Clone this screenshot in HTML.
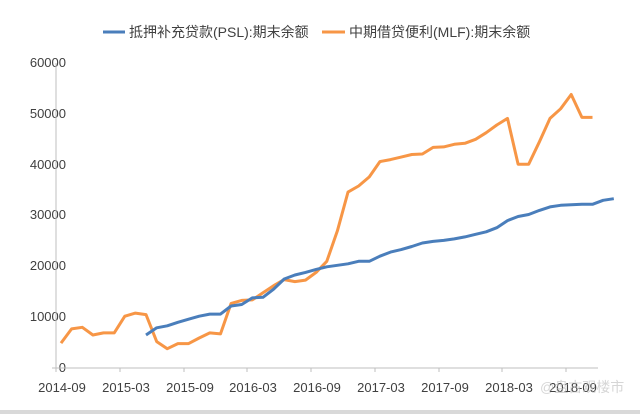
<!DOCTYPE html>
<html><head><meta charset="utf-8"><style>
body{margin:0;background:#fff;}
svg{display:block;font-family:"Liberation Sans","Noto Sans CJK SC",sans-serif;}
</style></head><body>
<svg id="s" width="640" height="414" viewBox="0 0 640 414">
<rect x="0" y="0" width="640" height="414" fill="#fff"/>
<rect x="0" y="410" width="640" height="4" fill="#d9d9d9"/>
<g font-size="13" fill="#404040" text-anchor="end">
<text x="66" y="372">0</text>
<text x="66" y="321">10000</text>
<text x="66" y="270">20000</text>
<text x="66" y="219">30000</text>
<text x="66" y="169">40000</text>
<text x="66" y="118">50000</text>
<text x="66" y="67">60000</text>
</g>
<line x1="56" y1="63" x2="56" y2="368" stroke="#bfbfbf"/>
<line x1="52" y1="368" x2="598" y2="368" stroke="#bfbfbf"/>
<g stroke="#bfbfbf" id="ticks"></g>
<g font-size="13" fill="#404040" text-anchor="middle">
<text x="62" y="392">2014-09</text>
<text x="126" y="392">2015-03</text>
<text x="190" y="392">2015-09</text>
<text x="253" y="392">2016-03</text>
<text x="317" y="392">2016-09</text>
<text x="381" y="392">2017-03</text>
<text x="445" y="392">2017-09</text>
<text x="509" y="392">2018-03</text>
<text x="573" y="392">2018-09</text>
</g>
<path id="o" fill="none" stroke="#f79646" stroke-width="3" stroke-linejoin="round"/>
<path id="b" fill="none" stroke="#4a7ebb" stroke-width="3" stroke-linejoin="round"/>
<line x1="103" y1="32" x2="125" y2="32" stroke="#4a7ebb" stroke-width="3"/>
<text x="129" y="37" font-size="14" fill="#404040">抵押补充贷款(PSL):期末余额</text>
<line x1="322" y1="32" x2="345" y2="32" stroke="#f79646" stroke-width="3"/>
<text x="349" y="37" font-size="14" fill="#404040">中期借贷便利(MLF):期末余额</text>
<text x="540" y="392" font-size="14" fill="#bbb" opacity="0.6">@盘古观楼市</text>
</svg>
<script>
var O=[4900,7700,8000,6500,6900,6900,10200,10800,10500,5200,3800,4800,4800,5900,6900,6700,12700,13300,13400,14800,16200,17400,17000,17300,18800,21000,27000,34600,35800,37600,40600,41000,41500,42000,42100,43400,43500,44000,44200,45000,46300,47800,49100,40100,40100,44500,49100,51000,53800,49300,49300];
var B=[6500,7900,8300,9000,9600,10200,10600,10600,12200,12500,13800,13900,15500,17500,18300,18800,19400,19900,20200,20500,21000,21000,22000,22800,23300,23900,24600,24900,25100,25400,25800,26300,26800,27600,29000,29800,30200,31000,31700,32000,32100,32200,32200,33000,33300];
function X(i){return 61+10.63*i}function Y(v){return 368-v*0.005083}
function p(a,s){return a.map(function(v,i){return(i?'L':'M')+X(i+s).toFixed(1)+' '+Y(v).toFixed(1)}).join('')}
document.getElementById('o').setAttribute('d',p(O,0));
document.getElementById('b').setAttribute('d',p(B,8));
var t='';[56,120,184,247,311,375,439,502,566].forEach(function(x){t+='<line x1="'+x+'" y1="368" x2="'+x+'" y2="372"/>'});
document.getElementById('ticks').innerHTML=t;
</script>
</body></html>
